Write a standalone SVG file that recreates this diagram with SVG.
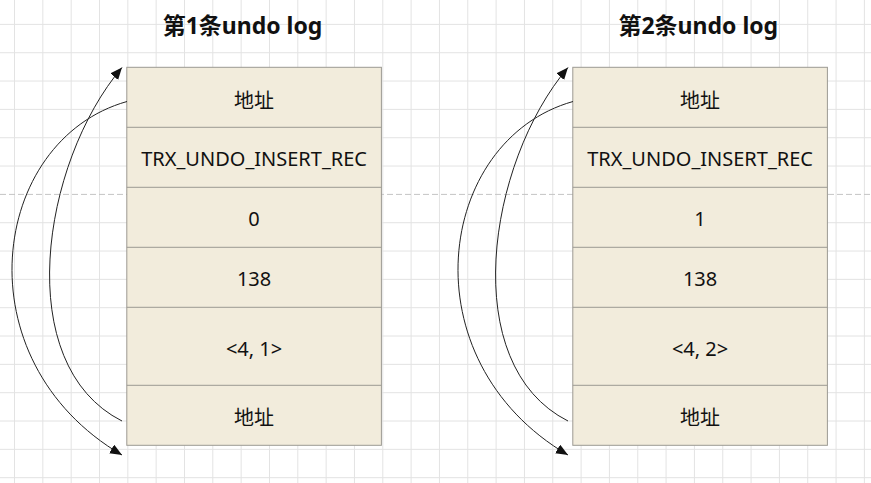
<svg xmlns="http://www.w3.org/2000/svg" width="871" height="483" viewBox="0 0 871 483">
<style>
.grid{stroke:#e3e3e3;stroke-width:1;fill:none}
.page{stroke:#c4c4c4;stroke-width:1;stroke-dasharray:6 3;fill:none}
.box{fill:#f2ecdc;stroke:#9c9a93;stroke-width:1}
.sep{stroke:#9c9a93;stroke-width:1;fill:none}
.t{font-family:"Noto Sans","Noto Sans CJK SC",sans-serif;font-size:20px;fill:#111;text-anchor:middle}
.cjk{font-family:"Noto Sans CJK SC","Noto Sans",sans-serif;font-size:20px;fill:#111;text-anchor:middle}
.title{font-family:"Noto Sans","Noto Sans CJK SC",sans-serif;font-size:23px;font-weight:bold;fill:#111;text-anchor:middle}
.edge{stroke:#222;stroke-width:1;fill:none;marker-end:url(#arr)}
</style>
<defs>
<marker id="arr" markerUnits="userSpaceOnUse" markerWidth="13" markerHeight="11" refX="12" refY="5" orient="auto">
<path d="M0,0 L12,5 L0,10 Z" fill="#111"/>
</marker>
</defs>
<rect width="871" height="483" fill="#ffffff"/>
<path class="grid" d="M14.5,0V483M42.83,0V483M71.16,0V483M99.49,0V483M127.82,0V483M156.15,0V483M184.48,0V483M212.81,0V483M241.14,0V483M269.47,0V483M297.8,0V483M326.13,0V483M354.46,0V483M382.79,0V483M411.12,0V483M439.45,0V483M467.78,0V483M496.11,0V483M524.44,0V483M552.77,0V483M581.1,0V483M609.43,0V483M637.76,0V483M666.09,0V483M694.42,0V483M722.75,0V483M751.08,0V483M779.41,0V483M807.74,0V483M836.07,0V483M864.4,0V483M0,24.4H871M0,52.73H871M0,81.06H871M0,109.39H871M0,137.72H871M0,166.05H871M0,222.71H871M0,251.04H871M0,279.37H871M0,307.7H871M0,336.03H871M0,364.36H871M0,392.69H871M0,421.02H871M0,449.35H871M0,477.68H871"/>
<path class="page" d="M0,194.4H871"/>

<g id="title1"><text class="title" x="242.5" y="33.5">第1条undo log</text></g>
<g id="title2"><text class="title" x="698.3" y="33.5">第2条undo log</text></g>

<g id="log1">
<rect class="box" x="126.8" y="67.3" width="254.6" height="378"/>
<path class="sep" d="M126.8,127.3H381.4M126.8,187.3H381.4M126.8,247.3H381.4M126.8,307.3H381.4M126.8,385.3H381.4"/>
<text class="cjk" x="254.1" y="107.5">地址</text>
<text class="t" x="254.1" y="165.8">TRX_UNDO_INSERT_REC</text>
<text class="t" x="254.1" y="226.4">0</text>
<text class="t" x="254.1" y="286.2">138</text>
<text class="t" x="254.1" y="356">&lt;4, 1&gt;</text>
<text class="cjk" x="254.1" y="425">地址</text>
</g>

<g id="log2">
<rect class="box" x="572.8" y="67.3" width="254.6" height="378"/>
<path class="sep" d="M572.8,127.3H827.4M572.8,187.3H827.4M572.8,247.3H827.4M572.8,307.3H827.4M572.8,385.3H827.4"/>
<text class="cjk" x="700.1" y="107.5">地址</text>
<text class="t" x="700.1" y="165.8">TRX_UNDO_INSERT_REC</text>
<text class="t" x="700.1" y="226.4">1</text>
<text class="t" x="700.1" y="286.2">138</text>
<text class="t" x="700.1" y="356">&lt;4, 2&gt;</text>
<text class="cjk" x="700.1" y="425">地址</text>
</g>

<g id="connectors">
<path class="edge" d="M127,101.5 C-10,140 -40,360 122,455"/>
<path class="edge" d="M122,421 C11,365 41,163 122,67.5"/>
<path class="edge" d="M573,101.5 C436,140 406,360 568,455"/>
<path class="edge" d="M568,421 C457,365 487,163 568,67.5"/>
</g>
</svg>
